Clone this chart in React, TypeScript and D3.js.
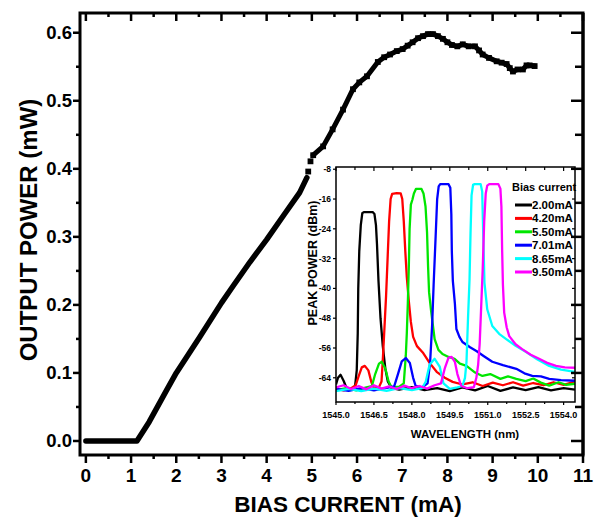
import React from "react";
import * as d3 from "d3";

const W = 602;
const H = 518;

// ---- Main chart: output power (mW) vs bias current (mA)
const liBelow: [number, number][] = [
  [0, 0], [0.15, 0], [0.3, 0], [0.45, 0], [0.6, 0], [0.75, 0], [0.9, 0], [1.05, 0], [1.13, 0],
  [1.4, 0.028], [1.79, 0.075], [2.0, 0.1], [2.52, 0.153], [3.0, 0.203], [3.25, 0.227],
  [3.63, 0.263], [4.0, 0.296], [4.4, 0.334], [4.73, 0.365], [4.89, 0.387],
];
const liGap: [number, number][] = [[4.92, 0.396], [4.97, 0.411]];
const liAbove: [number, number][] = [
  [5.03, 0.42], [5.25, 0.433], [5.46, 0.458], [5.69, 0.487], [5.91, 0.517], [6.05, 0.527],
  [6.22, 0.536], [6.46, 0.557], [6.6, 0.564], [6.73, 0.568], [6.88, 0.573], [7.01, 0.576],
  [7.12, 0.581], [7.23, 0.586], [7.35, 0.592], [7.46, 0.595], [7.57, 0.598], [7.68, 0.598],
  [7.79, 0.595], [7.9, 0.591], [8.0, 0.586], [8.1, 0.582], [8.22, 0.58], [8.34, 0.583],
  [8.47, 0.58], [8.61, 0.58], [8.7, 0.574], [8.78, 0.568], [8.92, 0.563], [9.09, 0.558],
  [9.2, 0.556], [9.31, 0.554], [9.38, 0.548], [9.45, 0.543], [9.55, 0.546], [9.67, 0.546],
  [9.75, 0.552], [9.82, 0.552], [9.93, 0.551],
];
const mainXTicks = [0, 1, 2, 3, 4, 5, 6, 7, 8, 9, 10, 11];
const mainYTicks = [0, 0.1, 0.2, 0.3, 0.4, 0.5, 0.6];

// ---- Inset: peak power (dBm) vs wavelength (nm)
const spec200: [number, number][] = [
  [1545.0, -65.8], [1545.08, -64.0], [1545.18, -63.2], [1545.3, -64.8], [1545.42, -66.8], [1545.6, -67.2],
  [1545.75, -66.5], [1545.82, -62], [1545.86, -52], [1545.88, -40], [1545.92, -30], [1545.98, -23],
  [1546.04, -19.8], [1546.1, -19.5], [1546.45, -19.5], [1546.52, -20], [1546.58, -23], [1546.62, -28],
  [1546.68, -38], [1546.76, -48], [1546.85, -55.5], [1546.95, -61.5], [1547.05, -65], [1547.2, -66.8],
  [1547.5, -67.2], [1548.0, -66.5], [1548.5, -67.3], [1549.0, -66.8], [1549.5, -67.6], [1550.0, -66.6],
  [1550.5, -67.4], [1551.0, -66.2], [1551.5, -67.5], [1552.0, -66.6], [1552.5, -67.3], [1553.0, -66.5],
  [1553.5, -67.4], [1554.0, -66.8], [1554.45, -67.2],
];
const spec420: [number, number][] = [
  [1545.0, -67.0], [1545.3, -67.4], [1545.6, -66.8], [1545.78, -66.0], [1545.9, -63.5], [1546.02, -61.2],
  [1546.14, -60.8], [1546.28, -62], [1546.4, -65.2], [1546.5, -66.8], [1546.7, -66.5], [1546.8, -65],
  [1546.86, -58], [1546.92, -50], [1546.98, -42], [1547.04, -32], [1547.1, -22], [1547.16, -16],
  [1547.22, -14.6], [1547.4, -14.4], [1547.56, -14.5], [1547.62, -16], [1547.68, -22], [1547.74, -30],
  [1547.8, -37], [1547.88, -43.5], [1547.96, -49], [1548.05, -53], [1548.2, -55.5], [1548.43, -57.2],
  [1548.7, -60], [1548.98, -62.4], [1549.3, -64], [1549.61, -65.1], [1550.0, -65.8], [1550.4, -65.2],
  [1550.8, -66.2], [1551.2, -65.3], [1551.6, -66.0], [1552.0, -65.2], [1552.4, -66.1], [1552.8, -65.4],
  [1553.2, -66.0], [1553.6, -65.2], [1554.0, -65.9], [1554.45, -65.0],
];
const spec550: [number, number][] = [
  [1545.0, -67.3], [1545.4, -66.8], [1545.8, -67.4], [1546.2, -66.6], [1546.42, -66.2], [1546.55, -63],
  [1546.7, -60.2], [1546.81, -59.7], [1546.95, -61.5], [1547.08, -65], [1547.2, -66.6], [1547.5, -66.4],
  [1547.68, -65.5], [1547.76, -58], [1547.8, -52], [1547.84, -44], [1547.88, -34], [1547.91, -24],
  [1547.96, -17.5], [1548.02, -16.2], [1548.08, -14.5], [1548.16, -13.3], [1548.38, -13.3], [1548.46, -14.5],
  [1548.54, -18], [1548.6, -25], [1548.64, -34], [1548.68, -41], [1548.76, -46], [1548.9, -53.6],
  [1549.05, -56.5], [1549.21, -57.6], [1549.45, -58.4], [1549.69, -58.9], [1549.9, -60.2], [1550.16, -60.8],
  [1550.5, -62.6], [1550.79, -63.5], [1551.1, -63.0], [1551.5, -64.3], [1551.8, -63.6], [1552.13, -64.3],
  [1552.5, -64.9], [1552.8, -64.2], [1553.1, -65.3], [1553.43, -66.1], [1553.8, -65.2], [1554.1, -65.9],
  [1554.45, -65.6],
];
const spec701: [number, number][] = [
  [1545.0, -67.0], [1545.5, -67.5], [1546.0, -66.8], [1546.5, -67.4], [1547.0, -66.7], [1547.3, -66.3],
  [1547.45, -63], [1547.6, -59.6], [1547.76, -58.7], [1547.92, -60], [1548.05, -64], [1548.15, -66.2],
  [1548.4, -66.6], [1548.62, -65.5], [1548.72, -60], [1548.8, -50], [1548.86, -39], [1548.94, -26],
  [1549.0, -16], [1549.06, -12.6], [1549.12, -12.0], [1549.45, -12.0], [1549.52, -13], [1549.56, -20],
  [1549.58, -30], [1549.62, -38], [1549.7, -44], [1549.76, -50.9], [1549.88, -53], [1550.0, -54.4],
  [1550.3, -55.8], [1550.55, -56.8], [1550.85, -58.2], [1551.18, -59.7], [1551.6, -60.6], [1552.13, -61.6],
  [1552.45, -62.8], [1552.76, -63.5], [1553.1, -63.6], [1553.43, -64.3], [1553.9, -64.6], [1554.45, -64.8],
];
const spec865: [number, number][] = [
  [1545.0, -67.6], [1545.5, -67.0], [1546.0, -67.6], [1546.5, -66.9], [1547.0, -67.5], [1547.5, -66.8],
  [1548.0, -67.3], [1548.4, -66.8], [1548.55, -65], [1548.7, -60.5], [1548.9, -58.9], [1549.1, -61],
  [1549.25, -65.5], [1549.5, -67], [1549.8, -66.6], [1550.0, -66.2], [1550.1, -64], [1550.16, -59.7],
  [1550.22, -48], [1550.28, -37.6], [1550.32, -25], [1550.36, -15], [1550.42, -12.2], [1550.48, -12.0],
  [1550.72, -12.0], [1550.78, -14], [1550.82, -25], [1550.87, -38.5], [1550.94, -43], [1550.98, -45.6],
  [1551.18, -50.1], [1551.45, -52.2], [1551.73, -53.6], [1552.1, -55.4], [1552.52, -57.1], [1552.95, -59],
  [1553.43, -60.8], [1553.9, -61.8], [1554.45, -62.4],
];
const spec950: [number, number][] = [
  [1545.0, -66.6], [1545.3, -66.0], [1545.6, -67.0], [1545.9, -66.2], [1546.2, -67.1], [1546.5, -66.0],
  [1546.8, -66.9], [1547.1, -66.3], [1547.4, -67.0], [1547.7, -66.1], [1548.0, -66.8], [1548.3, -66.2],
  [1548.6, -66.9], [1548.9, -66.0], [1549.15, -65.5], [1549.3, -61.5], [1549.45, -58.6], [1549.57, -58.4],
  [1549.7, -59.7], [1549.8, -63], [1549.95, -66.2], [1550.2, -66.8], [1550.45, -66.5], [1550.55, -64],
  [1550.62, -60.5], [1550.68, -55], [1550.74, -45], [1550.8, -35], [1550.86, -22], [1550.92, -14.5],
  [1550.98, -12.4], [1551.06, -12.0], [1551.42, -12.0], [1551.5, -13.2], [1551.54, -18], [1551.57, -30],
  [1551.6, -39], [1551.65, -46.5], [1551.75, -50.5], [1551.85, -52.8], [1552.1, -55], [1552.36, -56.3],
  [1552.7, -57.8], [1553.03, -58.9], [1553.35, -60], [1553.7, -60.8], [1554.05, -61.2], [1554.45, -61.3],
];
const seriesNames = ["2.00mA", "4.20mA", "5.50mA", "7.01mA", "8.65mA", "9.50mA"];
const seriesColors = ["#000000", "#ff0000", "#00e600", "#0000ff", "#00ffff", "#ff00ff"];
const seriesData = [spec200, spec420, spec550, spec701, spec865, spec950];
const insetXTicks = [1545.0, 1546.5, 1548.0, 1549.5, 1551.0, 1552.5, 1554.0];
const insetYTicks = [-8, -16, -24, -32, -40, -48, -56, -64];

const FONT = "'Liberation Sans', Arial, Helvetica, sans-serif";

export default function App() {
  // main scales
  const x = d3.scaleLinear().domain([-0.13, 11]).range([80, 583]);
  const y = d3.scaleLinear().domain([-0.0206, 0.629]).range([455, 13]);
  // inset scales
  const ix = d3.scaleLinear().domain([1545, 1554.45]).range([336, 575]);
  const iy = d3.scaleLinear().domain([-70.5, -7.4]).range([402, 167]);

  const mainLine = d3.line<[number, number]>().x((d) => x(d[0])).y((d) => y(d[1]));
  const insetLine = d3.line<[number, number]>().x((d) => ix(d[0])).y((d) => iy(d[1]));

  const [x0, x1] = x.range();
  const [yb, yt] = y.range();
  const [ix0, ix1] = ix.range();
  const [iyb, iyt] = iy.range();

  const xMinor = d3.range(0.5, 11, 1);
  const yMinor = d3.range(0.05, 0.62, 0.1);
  const yAll = d3.range(0, 0.62, 0.05);
  const ixMinor = d3.range(1545.75, 1554.4, 1.5);

  const dotted = [...liGap, ...liAbove];

  return (
    <svg width={W} height={H} style={{ position: "absolute", left: 0, top: 0, background: "#fff" }}
      fontFamily={FONT} fontWeight="bold">
      <defs>
        <clipPath id="insetClip">
          <rect x={ix0} y={iyt} width={ix1 - ix0} height={iyb - iyt} />
        </clipPath>
      </defs>
      <rect x={0} y={0} width={W} height={H} fill="#fff" />

      {/* main data */}
      <path d={mainLine(liBelow) || ""} fill="none" stroke="#000" strokeWidth={5.5} strokeLinejoin="round" strokeLinecap="round" />
      <path d={mainLine(liAbove) || ""} fill="none" stroke="#000" strokeWidth={5} strokeLinejoin="round" strokeLinecap="round" />
      {dotted.map((d, i) => (
        <rect key={i} x={x(d[0]) - 2.9} y={y(d[1]) - 2.9} width={5.8} height={5.8} fill="#000" />
      ))}

      {/* main frame */}
      <rect x={x0} y={yt} width={x1 - x0} height={yb - yt} fill="none" stroke="#000" strokeWidth={3} />

      {/* bottom ticks (outward) and top ticks (inward) */}
      {mainXTicks.map((t) => (
        <g key={"xt" + t}>
          <line x1={x(t)} x2={x(t)} y1={yb} y2={yb + 8} stroke="#000" strokeWidth={2.5} />
          <line x1={x(t)} x2={x(t)} y1={yt} y2={yt + 8} stroke="#000" strokeWidth={2.5} />
          <text x={x(t)} y={482} textAnchor="middle" fontSize={19}>{t}</text>
        </g>
      ))}
      {xMinor.map((t) => (
        <g key={"xm" + t}>
          <line x1={x(t)} x2={x(t)} y1={yb} y2={yb + 4} stroke="#000" strokeWidth={2.5} />
          <line x1={x(t)} x2={x(t)} y1={yt} y2={yt + 4} stroke="#000" strokeWidth={2.5} />
        </g>
      ))}
      {/* left ticks */}
      {mainYTicks.map((t) => (
        <g key={"yt" + t}>
          <line x1={x0 - 7} x2={x0} y1={y(t)} y2={y(t)} stroke="#000" strokeWidth={2.5} />
          <text x={72} y={y(t) + 6.5} textAnchor="end" fontSize={18.5}>{t.toFixed(1)}</text>
        </g>
      ))}
      {yMinor.map((t) => (
        <line key={"ym" + t} x1={x0 - 4} x2={x0} y1={y(t)} y2={y(t)} stroke="#000" strokeWidth={2.5} />
      ))}

      {/* axis titles */}
      <text x={348} y={512} textAnchor="middle" fontSize={22.5}>BIAS CURRENT (mA)</text>
      <text transform={`translate(37,230) rotate(-90)`} textAnchor="middle" fontSize={24}>OUTPUT POWER (mW)</text>

      {/* ---- inset ---- */}
      <rect x={ix0} y={iyt} width={ix1 - ix0} height={iyb - iyt} fill="#fff" />
      <g clipPath="url(#insetClip)">
        {seriesData.map((s, i) => (
          <path key={i} d={insetLine(s) || ""} fill="none" stroke={seriesColors[i]} strokeWidth={2.3}
            strokeLinejoin="round" />
        ))}
      </g>
      {/* legend */}
      <text x={512} y={191} fontSize={11}>Bias current</text>
      {seriesNames.map((n, i) => {
        const ly = 205 + i * 13.4;
        return (
          <g key={n}>
            <line x1={515} x2={532} y1={ly} y2={ly} stroke={seriesColors[i]} strokeWidth={3} />
            <text x={532} y={ly + 4} fontSize={11.5}>{n}</text>
          </g>
        );
      })}
      <rect x={ix0} y={iyt} width={ix1 - ix0} height={iyb - iyt} fill="none" stroke="#000" strokeWidth={1.5} />
      {insetXTicks.map((t) => (
        <g key={"ixt" + t}>
          <line x1={ix(t)} x2={ix(t)} y1={iyb} y2={iyb + 3} stroke="#000" strokeWidth={1.2} />
          <line x1={ix(t)} x2={ix(t)} y1={iyt} y2={iyt + 4} stroke="#000" strokeWidth={1.2} />
          <text x={ix(t)} y={418} textAnchor="middle" fontSize={9}>{t.toFixed(1)}</text>
        </g>
      ))}
      {ixMinor.map((t) => (
        <g key={"ixm" + t}>
          <line x1={ix(t)} x2={ix(t)} y1={iyb} y2={iyb + 2} stroke="#000" strokeWidth={1.2} />
          <line x1={ix(t)} x2={ix(t)} y1={iyt} y2={iyt + 3} stroke="#000" strokeWidth={1.2} />
        </g>
      ))}
      {insetYTicks.map((t) => (
        <g key={"iyt" + t}>
          <line x1={ix0 - 3} x2={ix0} y1={iy(t)} y2={iy(t)} stroke="#000" strokeWidth={1.2} />
          <line x1={ix1 - 3} x2={ix1} y1={iy(t)} y2={iy(t)} stroke="#000" strokeWidth={1.2} />
          <text x={331} y={iy(t) + 3} textAnchor="end" fontSize={8.5}>{t}</text>
        </g>
      ))}
      <text x={465} y={438} textAnchor="middle" fontSize={11.5}>WAVELENGTH (nm)</text>
      <text transform={`translate(317,263) rotate(-90)`} textAnchor="middle" fontSize={12.5}>PEAK POWER (dBm)</text>

      {/* right main ticks (inward), drawn over inset */}
      {yAll.map((t, i) => (
        <line key={"yr" + i} x1={i % 2 === 0 ? x1 - 12 : x1 - 8} x2={x1} y1={y(t)} y2={y(t)}
          stroke="#000" strokeWidth={2.5} />
      ))}
      <line x1={x1} x2={x1} y1={yt} y2={yb} stroke="#000" strokeWidth={3} />
    </svg>
  );
}
